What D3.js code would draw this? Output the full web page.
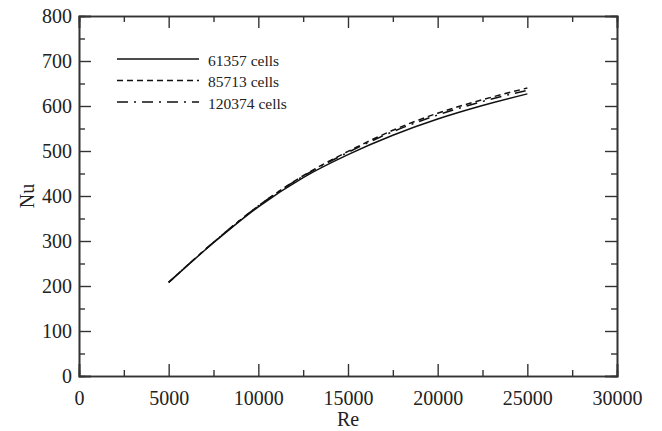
<!DOCTYPE html>
<html>
<head>
<meta charset="utf-8">
<script src="https://cdn.jsdelivr.net/npm/d3@7"></script>
<style>
  body { margin: 0; background: #fff; }
  svg { display: block; font-family: "Liberation Serif", "Times New Roman", serif; }
  .axis path, .axis line { stroke: #333; }
  .axis text { fill: #222; font-size: 20px; font-family: "Liberation Serif", serif; }
</style>
</head>
<body>
<svg id="chart" width="662" height="431"></svg>
<script>
var width = 662, height = 431
var margin = {top: 16, right: 45, bottom: 55, left: 79}

// Reynolds numbers sampled along the curves
var re = [5000, 7500, 10000, 12500, 15000, 17500, 20000, 22500, 25000]

// Nusselt number for each mesh
var nu61357  = [208, 296, 376, 441, 492, 535, 571, 601, 627]
var nu85713  = [208, 297, 378, 445, 499, 546, 584, 614, 640]
var nu120374 = [208, 297, 378, 444, 497, 543, 580, 610, 635]

var seriesNames = ['61357 cells', '85713 cells', '120374 cells']
var seriesDash = [null, '6,4', '11,6,2,6']

var xMajor = [0, 5000, 10000, 15000, 20000, 25000, 30000]
var xMinor = [2500, 7500, 12500, 17500, 22500, 27500]
var yMajor = [0, 100, 200, 300, 400, 500, 600, 700, 800]
var yMinor = [50, 150, 250, 350, 450, 550, 650, 750]

var series = [nu61357, nu85713, nu120374]

var svg = d3.select('#chart')
var iw = width - margin.left - margin.right
var ih = height - margin.top - margin.bottom

var x = d3.scaleLinear().domain([0, 30000]).range([0, iw])
var y = d3.scaleLinear().domain([0, 800]).range([ih, 0])

var g = svg.append('g').attr('transform', 'translate(' + margin.left + ',' + margin.top + ')')

// bottom axis with labels
g.append('g').attr('class', 'axis').attr('transform', 'translate(0,' + ih + ')')
  .call(d3.axisBottom(x).tickValues(xMajor).tickSize(-12).tickPadding(15).tickFormat(d3.format('d')))
g.append('g').attr('class', 'axis').attr('transform', 'translate(0,' + ih + ')')
  .call(d3.axisBottom(x).tickValues(xMinor).tickSize(-6).tickFormat(''))
// top mirror
g.append('g').attr('class', 'axis')
  .call(d3.axisTop(x).tickValues(xMajor).tickSize(-12).tickFormat(''))
g.append('g').attr('class', 'axis')
  .call(d3.axisTop(x).tickValues(xMinor).tickSize(-6).tickFormat(''))

// left axis with labels
g.append('g').attr('class', 'axis')
  .call(d3.axisLeft(y).tickValues(yMajor).tickSize(-12).tickPadding(7))
g.append('g').attr('class', 'axis')
  .call(d3.axisLeft(y).tickValues(yMinor).tickSize(-6).tickFormat(''))
// right mirror
g.append('g').attr('class', 'axis').attr('transform', 'translate(' + iw + ',0)')
  .call(d3.axisRight(y).tickValues(yMajor).tickSize(-12).tickFormat(''))
g.append('g').attr('class', 'axis').attr('transform', 'translate(' + iw + ',0)')
  .call(d3.axisRight(y).tickValues(yMinor).tickSize(-6).tickFormat(''))

g.selectAll('.axis path').attr('stroke-width', 1.6)
g.selectAll('.axis line').attr('stroke-width', 1.4)

var line = d3.line()
  .x(function(d, i) { return x(re[i]) })
  .y(function(d) { return y(d) })
  .curve(d3.curveMonotoneX)

g.selectAll('.curve')
  .data(series)
  .enter()
  .append('path')
  .attr('class', 'curve')
  .attr('d', line)
  .attr('fill', 'none')
  .attr('stroke', '#111')
  .attr('stroke-width', 1.5)
  .attr('stroke-dasharray', function(d, i) { return seriesDash[i] })

// legend
var legend = g.append('g').attr('transform', 'translate(38,43)')
var rows = legend.selectAll('g')
  .data(seriesNames)
  .enter()
  .append('g')
  .attr('transform', function(d, i) { return 'translate(0,' + (i * 21.5) + ')' })

rows.append('line')
  .attr('x1', 0).attr('x2', 82)
  .attr('stroke', '#111')
  .attr('stroke-width', 1.5)
  .attr('stroke-dasharray', function(d, i) { return seriesDash[i] })

rows.append('text')
  .attr('x', 91)
  .attr('y', 6.5)
  .attr('font-size', '15.5px')
  .attr('fill', '#222')
  .text(function(d) { return d })

// axis titles
svg.append('text')
  .attr('x', margin.left + iw / 2)
  .attr('y', 426)
  .attr('text-anchor', 'middle')
  .attr('font-size', '20px')
  .attr('fill', '#222')
  .text('Re')

svg.append('text')
  .attr('transform', 'translate(34,' + (margin.top + ih / 2) + ') rotate(-90)')
  .attr('text-anchor', 'middle')
  .attr('font-size', '20px')
  .attr('fill', '#222')
  .text('Nu')
</script>
</body>
</html>
